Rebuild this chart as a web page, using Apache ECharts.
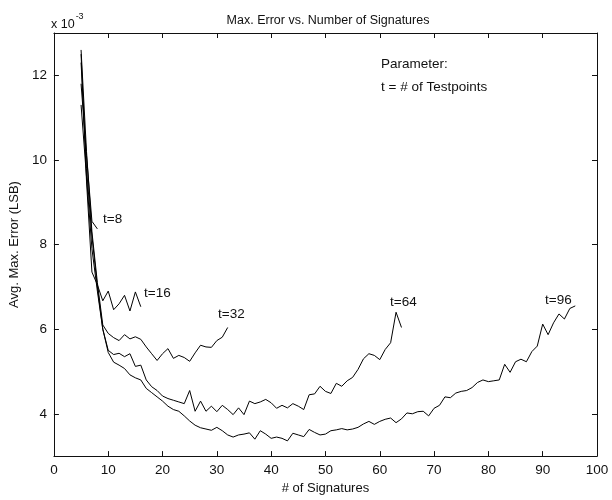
<!DOCTYPE html>
<html>
<head>
<meta charset="utf-8">
<script src="https://cdn.jsdelivr.net/npm/echarts@6/dist/echarts.min.js"></script>
<style>html,body{margin:0;padding:0;background:#fff}#c{width:612px;height:500px}</style>
</head>
<body>
<div id="c"></div>
<script>
// x values start at 5 signatures, step 1
const startX = 5;
const t8  = [11.8, 10.1, 8.55, 8.37];
const t16 = [12.5, 9.5, 7.35, 7.05, 6.67, 6.9, 6.46, 6.6, 6.8, 6.43, 6.88, 6.53];
const t32 = [12.6, 10.2, 8.3, 7.1, 6.1, 5.9, 5.8, 5.73, 5.87, 5.77, 5.82, 5.76, 5.58, 5.42, 5.26, 5.42,
             5.54, 5.31, 5.38, 5.33, 5.24, 5.44, 5.62, 5.58, 5.57, 5.73, 5.81, 6.04];
const t64 = [12.3, 9.8, 8.2, 7.0, 6.0, 5.5, 5.4, 5.43, 5.35, 5.42,
             5.12, 5.15, 4.8, 4.64, 4.55, 4.42, 4.36, 4.32, 4.28, 4.24,
             4.55, 4.06, 4.3, 4.06, 4.18, 4.05, 4.2, 4.1, 3.98, 4.14,
             3.98, 4.3, 4.24, 4.28, 4.34, 4.26, 4.13, 4.2, 4.14, 4.24,
             4.18, 4.1, 4.45, 4.47, 4.65, 4.53, 4.48, 4.72, 4.65, 4.78,
             4.86, 5.05, 5.3, 5.42, 5.38, 5.28, 5.52, 5.68, 6.4, 6.04];
const t96 = [11.3, 9.6, 7.9, 6.9, 6.0, 5.45, 5.22, 5.15, 5.07, 4.92,
             4.85, 4.8, 4.6, 4.5, 4.4, 4.3, 4.18, 4.1, 4.06, 3.95,
             3.83, 3.73, 3.67, 3.64, 3.61, 3.68, 3.6, 3.5, 3.45, 3.5,
             3.52, 3.55, 3.4, 3.6, 3.52, 3.42, 3.45, 3.42, 3.36, 3.54,
             3.5, 3.46, 3.63, 3.56, 3.5, 3.52, 3.6, 3.62, 3.65, 3.62,
             3.64, 3.68, 3.76, 3.82, 3.75, 3.82, 3.87, 3.9, 3.79, 3.88,
             4.02, 4.0, 4.05, 4.06, 3.95, 4.13, 4.2, 4.4, 4.38, 4.49,
             4.53, 4.55, 4.62, 4.74, 4.8, 4.76, 4.78, 4.8, 5.17, 4.98,
             5.23, 5.29, 5.23, 5.47, 5.6, 6.12, 5.87, 6.15, 6.36, 6.24,
             6.49, 6.55];
const seriesNames = ['t=8', 't=16', 't=32', 't=64', 't=96'];
const yTicks = [4, 6, 8, 10, 12];
const xTicks = [0, 10, 20, 30, 40, 50, 60, 70, 80, 90, 100];

const FONT = '"Liberation Sans", Arial, Helvetica, sans-serif';
const toPairs = arr => arr.map((v, i) => [startX + i, v]);
const allData = [t8, t16, t32, t64, t96];

const chart = echarts.init(document.getElementById('c'), null, {renderer: 'canvas'});
const axisLine = {show: true, onZero: false, lineStyle: {color: '#111', width: 1}};
const tick = {show: true, inside: true, length: 5, lineStyle: {color: '#111', width: 1}};

chart.setOption({
  animation: false,
  backgroundColor: '#fff',
  title: {
    text: 'Max. Error vs. Number of Signatures',
    left: 323, top: 9, textAlign: 'center',
    textStyle: {fontFamily: FONT, fontSize: 12.5, fontWeight: 'normal', color: '#111'}
  },
  grid: {left: 49, top: 33, width: 548, height: 431},
  xAxis: [
    {type: 'value', min: 0, max: 100, interval: 10, position: 'bottom',
     name: '# of Signatures', nameLocation: 'middle', nameGap: 21,
     nameTextStyle: {fontFamily: FONT, fontSize: 13, color: '#111'},
     axisLine: axisLine, axisTick: tick, splitLine: {show: false},
     axisLabel: {margin: 7, fontFamily: FONT, fontSize: 13.5, color: '#111',
                 customValues: xTicks}},
    {type: 'value', min: 0, max: 100, interval: 10, position: 'top',
     axisLine: axisLine, axisTick: tick, splitLine: {show: false}, axisLabel: {show: false}}
  ],
  yAxis: [
    {type: 'value', min: 3, max: 13, position: 'left',
     name: 'Avg. Max. Error (LSB)', nameLocation: 'middle', nameGap: 24,
     nameTextStyle: {fontFamily: FONT, fontSize: 13, color: '#111'},
     axisLine: axisLine, splitLine: {show: false},
     axisTick: Object.assign({customValues: yTicks}, tick),
     axisLabel: {customValues: yTicks, margin: 7, fontFamily: FONT, fontSize: 13.5, color: '#111'}},
    {type: 'value', min: 3, max: 13, position: 'right',
     axisLine: axisLine, splitLine: {show: false},
     axisTick: Object.assign({customValues: yTicks}, tick),
     axisLabel: {show: false, customValues: yTicks}}
  ],
  series: allData.map((arr, i) => ({
    name: seriesNames[i], type: 'line', data: toPairs(arr),
    xAxisIndex: 0, yAxisIndex: 0,
    showSymbol: false, symbol: 'none', smooth: false,
    lineStyle: {color: '#000', width: 1}
  })),
  graphic: [
    {type: 'text', left: 51, top: 12, style: {
      text: '{a|x 10}{b|-3}', fill: '#111',
      rich: {a: {fontFamily: FONT, fontSize: 12.5, verticalAlign: 'bottom', padding: [6, 0, 0, 0]},
             b: {fontFamily: FONT, fontSize: 9, verticalAlign: 'top', padding: [0, 0, 6, 1]}}}},
    {type: 'text', left: 381, top: 57, style: {text: 'Parameter:', fontFamily: FONT, fontSize: 13.5, fill: '#111'}},
    {type: 'text', left: 381, top: 80, style: {text: 't = # of Testpoints', fontFamily: FONT, fontSize: 13.5, fill: '#111'}},
    {type: 'text', left: 103, top: 212, style: {text: seriesNames[0], fontFamily: FONT, fontSize: 13.5, fill: '#111'}},
    {type: 'text', left: 144, top: 286, style: {text: seriesNames[1], fontFamily: FONT, fontSize: 13.5, fill: '#111'}},
    {type: 'text', left: 218, top: 307, style: {text: seriesNames[2], fontFamily: FONT, fontSize: 13.5, fill: '#111'}},
    {type: 'text', left: 390, top: 295, style: {text: seriesNames[3], fontFamily: FONT, fontSize: 13.5, fill: '#111'}},
    {type: 'text', left: 545, top: 293, style: {text: seriesNames[4], fontFamily: FONT, fontSize: 13.5, fill: '#111'}}
  ]
});
</script>
</body>
</html>
